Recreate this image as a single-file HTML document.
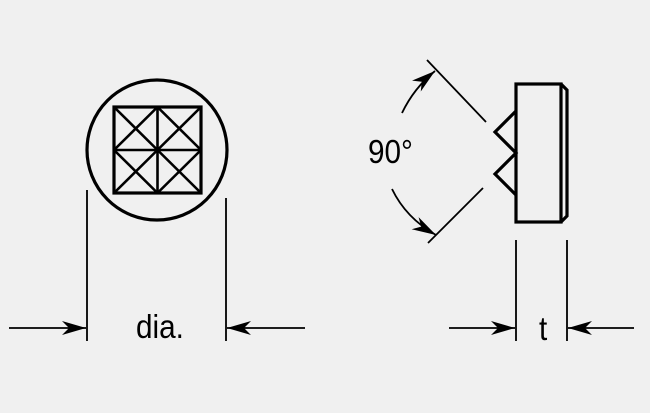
<!DOCTYPE html>
<html><head><style>html,body{margin:0;padding:0;background:#f0f0f0;}svg{display:block}</style></head>
<body>
<svg width="650" height="413" viewBox="0 0 650 413" xmlns="http://www.w3.org/2000/svg">
<rect width="650" height="413" fill="#f0f0f0"/>
<defs>
<marker id="ah" viewBox="0 0 24 14" refX="24" refY="7" markerWidth="24" markerHeight="14" markerUnits="userSpaceOnUse" orient="auto">
<path d="M0,0 L24,7 L0,14 L7,7 Z" fill="#000"/>
</marker>
</defs>
<g stroke="#000" fill="none">
<circle cx="157" cy="150" r="70" stroke-width="3.2"/>
<rect x="114" y="107" width="87" height="86" stroke-width="3.2"/>
<g stroke-width="2.6">
<line x1="157.5" y1="107" x2="157.5" y2="193"/>
<line x1="114" y1="150" x2="201" y2="150"/>
<line x1="114" y1="107" x2="157.5" y2="150"/><line x1="157.5" y1="107" x2="114" y2="150"/>
<line x1="157.5" y1="107" x2="201" y2="150"/><line x1="201" y1="107" x2="157.5" y2="150"/>
<line x1="114" y1="150" x2="157.5" y2="193"/><line x1="157.5" y1="150" x2="114" y2="193"/>
<line x1="157.5" y1="150" x2="201" y2="193"/><line x1="201" y1="150" x2="157.5" y2="193"/>
</g>
<g stroke-width="1.8">
<line x1="87" y1="190" x2="87" y2="341"/>
<line x1="226" y1="198" x2="226" y2="341"/>
<line x1="9" y1="328" x2="86" y2="328" marker-end="url(#ah)"/>
<line x1="305" y1="328" x2="227" y2="328" marker-end="url(#ah)"/>
<line x1="516" y1="240" x2="516" y2="341"/>
<line x1="567" y1="240" x2="567" y2="341"/>
<line x1="449" y1="328" x2="515" y2="328" marker-end="url(#ah)"/>
<line x1="634" y1="328" x2="568" y2="328" marker-end="url(#ah)"/>
<line x1="427" y1="60" x2="486" y2="122"/>
<line x1="483" y1="188" x2="428" y2="243"/>
<path d="M402,113 Q414,88 435,71" marker-end="url(#ah)"/>
<path d="M392,189 Q406,218 436,235" marker-end="url(#ah)"/>
</g>
<g stroke-width="3.2">
<rect x="516" y="84" width="45" height="138"/>
<path d="M561,84 L567,90 L567,216 L561,222"/>
<path d="M516,111 L495,132 L516,153 L495,174 L516,195"/>
</g>
</g>
<g font-family="Liberation Sans, sans-serif" fill="#000">
<text x="0" y="0" font-size="33" transform="translate(136,338) scale(0.9,1)">dia.</text>
<text x="0" y="0" font-size="33" transform="translate(539,340) scale(0.9,1)">t</text>
<text x="0" y="0" font-size="33" transform="translate(368,163) scale(0.9,1)">90°</text>
</g>
</svg>
</body></html>
